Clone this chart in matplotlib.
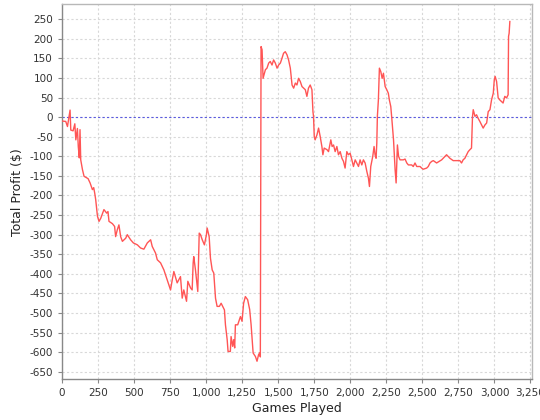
import matplotlib
matplotlib.use("Agg")
import matplotlib.pyplot as plt
from matplotlib.ticker import MultipleLocator, FuncFormatter

plt.rcParams['axes.unicode_minus'] = False
plt.rcParams['font.family'] = ['DejaVu Sans']

games = [0, 26, 38, 56, 61, 77, 89, 96, 107, 113, 120, 125, 130, 142, 153, 181, 195, 211, 220, 227,
         234, 246, 257, 269, 291, 310, 319, 326, 350, 365, 372, 384, 395, 407, 419, 442, 453, 476, 495, 523,
         545, 568, 592, 615, 626, 649, 661, 684, 707, 718, 730, 753, 765, 776, 799, 822, 834, 845, 864, 873,
         892, 903, 910, 914, 926, 938, 942, 952, 961, 973, 988, 1002, 1007, 1021, 1030, 1042, 1053, 1065, 1076, 1092,
         1104, 1115, 1127, 1134, 1146, 1152, 1168, 1173, 1184, 1191, 1198, 1203, 1219, 1238, 1249, 1260, 1272, 1288, 1302, 1312,
         1326, 1342, 1353, 1364, 1371, 1376, 1381, 1388, 1395, 1404, 1411, 1422, 1434, 1445, 1457, 1468, 1480, 1492, 1503, 1515,
         1526, 1537, 1549, 1561, 1572, 1584, 1596, 1607, 1619, 1630, 1641, 1653, 1665, 1676, 1688, 1699, 1710, 1722, 1734, 1741,
         1745, 1750, 1756, 1769, 1780, 1791, 1803, 1810, 1819, 1838, 1849, 1865, 1874, 1884, 1895, 1907, 1918, 1930, 1942, 1953,
         1964, 1976, 1987, 1999, 2011, 2022, 2034, 2045, 2057, 2068, 2080, 2091, 2103, 2115, 2126, 2133, 2142, 2156, 2165, 2172,
         2179, 2184, 2188, 2195, 2202, 2212, 2221, 2230, 2242, 2253, 2264, 2271, 2281, 2288, 2300, 2311, 2318, 2327, 2335, 2345,
         2368, 2380, 2392, 2403, 2426, 2437, 2449, 2461, 2484, 2495, 2506, 2530, 2541, 2553, 2565, 2576, 2599, 2617, 2634, 2657,
         2668, 2691, 2714, 2738, 2760, 2772, 2783, 2795, 2807, 2818, 2830, 2841, 2848, 2853, 2865, 2876, 2887, 2899, 2911, 2922,
         2934, 2946, 2957, 2969, 2980, 2992, 2999, 3005, 3015, 3026, 3037, 3049, 3060, 3072, 3084, 3095, 3098, 3102, 3107]

profit = [-10, -11, -24, 18, -33, -35, -17, -58, -29, -75, -104, -32, -109, -134, -151, -157, -168, -185, -180, -194,
          -211, -253, -266, -258, -236, -245, -241, -266, -272, -279, -305, -287, -275, -305, -317, -309, -300, -313, -321, -326,
          -334, -337, -321, -313, -330, -347, -364, -372, -390, -402, -415, -441, -415, -394, -423, -407, -462, -441, -470, -419,
          -436, -441, -372, -356, -390, -432, -445, -296, -300, -313, -326, -300, -283, -305, -360, -390, -398, -462, -483, -483,
          -475, -483, -492, -530, -568, -598, -598, -560, -585, -568, -589, -530, -530, -509, -521, -475, -458, -466, -491, -530,
          -602, -611, -623, -606, -602, -612, 180, 172, 99, 112, 121, 125, 138, 142, 133, 146, 138, 125, 133, 138,
          150, 163, 167, 159, 146, 125, 82, 74, 87, 82, 99, 91, 78, 74, 70, 53, 74, 82, 70, 14,
          2, -49, -58, -45, -28, -49, -75, -96, -79, -83, -88, -58, -75, -71, -88, -75, -96, -88, -105, -113,
          -130, -88, -96, -92, -109, -126, -109, -117, -126, -109, -122, -109, -117, -139, -156, -177, -126, -100, -75, -96,
          -105, -66, 2, 44, 125, 116, 99, 112, 78, 70, 61, 44, 27, -3, -58, -134, -168, -71, -100, -109,
          -109, -107, -117, -122, -122, -126, -117, -126, -126, -130, -133, -130, -126, -117, -113, -111, -117, -113, -109, -100,
          -96, -105, -111, -111, -111, -117, -109, -105, -96, -88, -83, -79, 2, 19, 2, 6, -3, -11, -20, -28,
          -20, -15, 14, 19, 44, 61, 95, 104, 91, 49, 44, 40, 36, 53, 49, 57, 206, 214, 244]

x_ticks_step = 250
y_ticks_step = 50

fig = plt.figure(figsize=(5.4, 4.2), dpi=100)
ax = fig.add_axes([0.1148, 0.097, 0.985 - 0.1148, 0.9898 - 0.097])

ax.plot(games, profit, color='#FF5555', linewidth=1.0, zorder=3)
ax.axhline(0, color='#5a5ae0', linewidth=0.8, linestyle=(0, (2, 2)), zorder=2)

ax.set_xlim(-8, 3260)
ax.set_ylim(-669, 288)
ax.xaxis.set_major_locator(MultipleLocator(x_ticks_step))
ax.yaxis.set_major_locator(MultipleLocator(y_ticks_step))
ax.xaxis.set_major_formatter(FuncFormatter(lambda v, p: f"{int(round(v)):,}"))
ax.yaxis.set_major_formatter(FuncFormatter(lambda v, p: f"{int(round(v))}"))
ax.set_xlim(0, 3260)

ax.grid(True, color='#d8d8d8', linestyle=(0, (2, 2)), linewidth=0.8)
ax.set_axisbelow(True)
for s in ['top', 'right']:
    ax.spines[s].set_color('#b8b8b8')
    ax.spines[s].set_linewidth(1.0)
for s in ['left', 'bottom']:
    ax.spines[s].set_color('#888888')
    ax.spines[s].set_linewidth(1.0)
ax.tick_params(axis='both', labelsize=7.5, colors='#888888', labelcolor='#333333', length=3, width=0.8)

ax.set_xlabel("Games Played", fontsize=9, color='#222222', labelpad=3)
ax.set_ylabel(r"Total Profit (\$)", fontsize=9, color='#222222', labelpad=4)

fig.savefig("out.png", dpi=100, facecolor='white')
